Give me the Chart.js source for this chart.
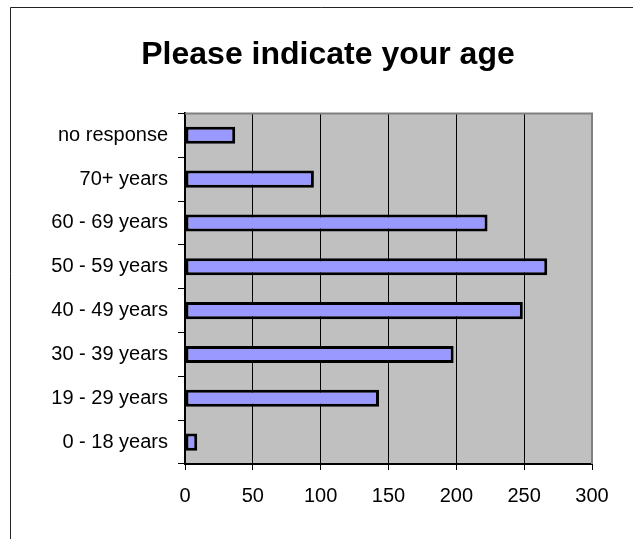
<!DOCTYPE html>
<html>
<head>
<meta charset="utf-8">
<title>Please indicate your age</title>
<script src="https://cdn.jsdelivr.net/npm/chart.js@4/dist/chart.umd.min.js"></script>
<style>
  html, body { margin: 0; padding: 0; background: #fff; overflow: hidden; }
  canvas { display: block; }
</style>
</head>
<body>
<canvas id="age-chart" width="633" height="539"></canvas>
<script>
// Data
const ageGroups = ['0 - 18 years', '19 - 29 years', '30 - 39 years', '40 - 49 years',
  '50 - 59 years', '60 - 69 years', '70+ years', 'no response'];
const responses = [9, 143, 198, 249, 267, 223, 95, 37];
const xTicks = [0, 50, 100, 150, 200, 250, 300];

Chart.defaults.color = '#000';
Chart.defaults.font.family = '"Liberation Sans", Arial, sans-serif';

// Gray plot area, gray top/right frame and the outer chart border
const excelFrame = {
  id: 'excelFrame',
  beforeDraw(chart) {
    const { ctx, chartArea: a } = chart;
    ctx.save();
    ctx.fillStyle = '#C0C0C0';
    ctx.fillRect(a.left, a.top, a.right - a.left, a.bottom - a.top);
    ctx.restore();
  },
  afterDraw(chart) {
    const { ctx, chartArea: a } = chart;
    ctx.save();
    ctx.strokeStyle = '#808080';
    ctx.lineWidth = 2;
    ctx.beginPath();
    ctx.moveTo(a.left, a.top);
    ctx.lineTo(a.right, a.top);
    ctx.lineTo(a.right, a.bottom);
    ctx.stroke();
    // outer border
    ctx.strokeStyle = '#222';
    ctx.lineWidth = 1;
    ctx.beginPath();
    ctx.moveTo(10.5, chart.height);
    ctx.lineTo(10.5, 7.5);
    ctx.lineTo(chart.width, 7.5);
    ctx.stroke();
    ctx.restore();
  }
};

const ageChart = new Chart(document.getElementById('age-chart'), {
  type: 'bar',
  data: {
    labels: ageGroups,
    datasets: [{
      label: 'Responses',
      data: responses,
      backgroundColor: '#9999FF',
      borderColor: '#000',
      borderWidth: 3,
      borderSkipped: false,
      barPercentage: 0.39,
      categoryPercentage: 1
    }]
  },
  options: {
    indexAxis: 'y',
    responsive: false,
    animation: false,
    devicePixelRatio: 1,
    layout: {
      padding: { left: 50, right: 27, top: 0, bottom: 0 }
    },
    plugins: {
      legend: { display: false },
      tooltip: { enabled: false },
      title: {
        display: true,
        text: 'Please indicate your age',
        color: '#000',
        font: { size: 32, weight: 'bold' },
        padding: { top: 36, bottom: 39 }
      }
    },
    scales: {
      x: {
        type: 'linear',
        min: 0,
        max: 300,
        afterFit(scale) { scale.height = 75; },
        afterBuildTicks(scale) { scale.ticks = xTicks.map(v => ({ value: v })); },
        grid: {
          color: ctx => (ctx.tick && ctx.tick.value === 300) ? '#808080' : '#000',
          lineWidth: 1,
          tickLength: 6,
          tickColor: '#000'
        },
        border: { display: true, color: '#000', width: 2 },
        ticks: {
          padding: 14,
          font: { size: 20 },
          color: '#000'
        }
      },
      y: {
        reverse: true,
        afterFit(scale) { scale.width = 135; },
        grid: {
          offset: true,
          drawOnChartArea: false,
          tickLength: 7,
          tickColor: '#000'
        },
        border: { display: true, color: '#000', width: 2 },
        ticks: {
          padding: 10,
          font: { size: 20 },
          color: '#000'
        }
      },
      // empty spacer on the right so the plot ends where the reference does
      spacer: {
        type: 'linear',
        position: 'right',
        afterFit(scale) { scale.width = 14; },
        grid: { display: false },
        border: { display: false },
        ticks: { display: false }
      }
    }
  },
  plugins: [excelFrame]
});
</script>
</body>
</html>
